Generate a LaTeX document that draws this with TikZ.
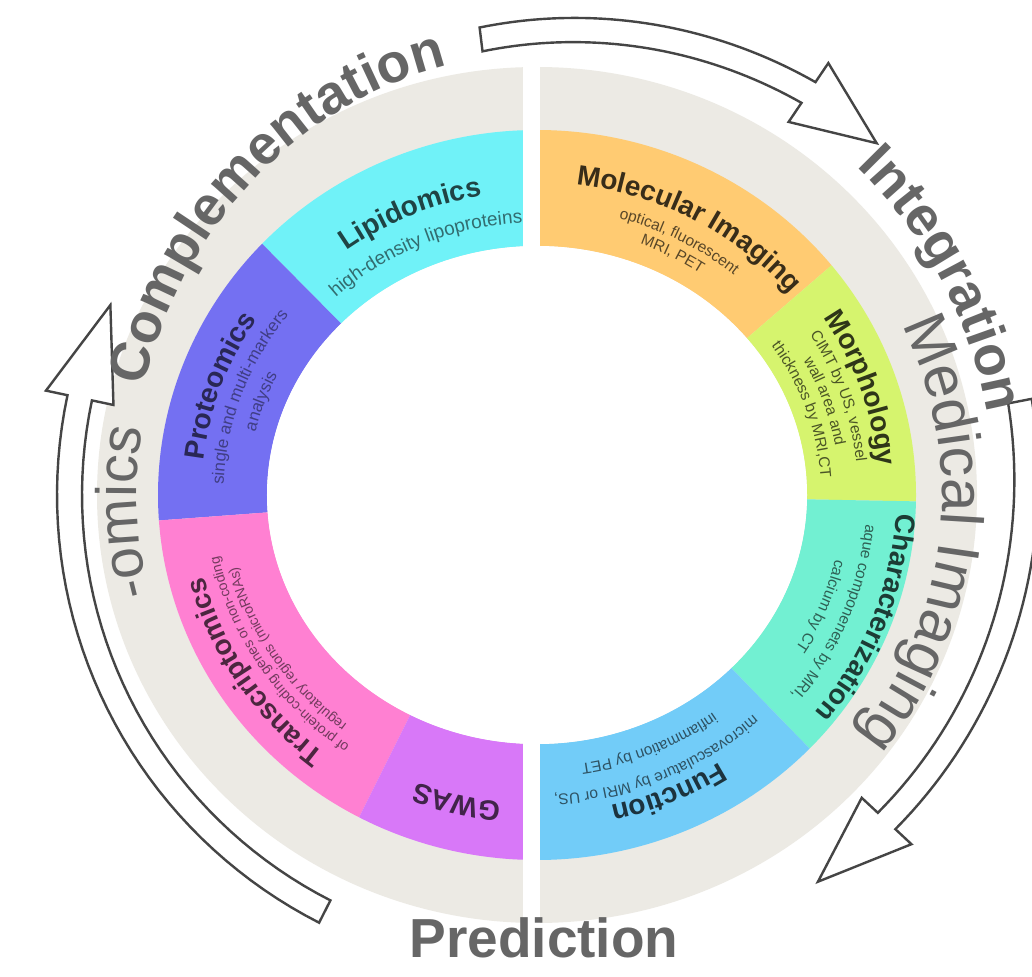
\documentclass[tikz,border=0pt]{standalone}
\usepackage{fontspec}
\setmainfont{Liberation Sans}
\usetikzlibrary{decorations.text}
\definecolor{gband}{HTML}{ECEAE4}
\definecolor{kLip}{HTML}{70F2F8}
\definecolor{kProt}{HTML}{7470F2}
\definecolor{kTrans}{HTML}{FF80D2}
\definecolor{kGwas}{HTML}{D878F8}
\definecolor{kMol}{HTML}{FFCB72}
\definecolor{kMorph}{HTML}{D6F46E}
\definecolor{kChar}{HTML}{72F0D2}
\definecolor{kFunc}{HTML}{72CCF8}
\definecolor{lbl}{HTML}{666666}
\definecolor{arrowc}{HTML}{454545}
\colorlet{tLip}{kLip!28!black}\colorlet{sLip}{kLip!45!black}
\colorlet{tProt}{kProt!35!black}\colorlet{sProt}{kProt!55!black}
\colorlet{tTrans}{kTrans!30!black}\colorlet{sTrans}{kTrans!45!black}
\colorlet{tGwas}{kGwas!30!black}
\colorlet{tMol}{kMol!22!black}\colorlet{sMol}{kMol!35!black}
\colorlet{tMorph}{kMorph!22!black}\colorlet{sMorph}{kMorph!35!black}
\colorlet{tChar}{kChar!25!black}\colorlet{sChar}{kChar!40!black}
\colorlet{tFunc}{kFunc!25!black}\colorlet{sFunc}{kFunc!40!black}
\newcommand{\fBig}{\fontsize{55}{57}\selectfont\bfseries}
\newcommand{\fBigR}{\fontsize{57}{60}\selectfont}
\newcommand{\fBigM}{\fontsize{60}{62}\selectfont}
\newcommand{\fTit}{\fontsize{28}{30}\selectfont\bfseries}
\newcommand{\fSubA}{\fontsize{19}{21}\selectfont}
\newcommand{\fSubB}{\fontsize{17}{19}\selectfont}
\newcommand{\fSubC}{\fontsize{15.5}{17}\selectfont}
\newcommand{\fSubD}{\fontsize{14}{16}\selectfont}
% ring segment: colour, start angle, end angle
\newcommand{\ringseg}[3]{\fill[#1] (#2:379pt and 365pt) arc[start angle=#2,end angle=#3,x radius=379pt,y radius=365pt] -- (#3:270pt and 249pt) arc[start angle=#3,end angle=#2,x radius=270pt,y radius=249pt] -- cycle;}
% text on ring: t, start, end, colour, font, text, align
\newcommand{\arctext}[7]{%
  \pgfmathsetmacro\rxx{270+109*#1}\pgfmathsetmacro\ryy{249+116*#1}%
  \path[decorate,decoration={text along path,text align=#7,text color=#4,text={|#5|#6}}]
    (#2:\rxx pt and \ryy pt) arc[start angle=#2,end angle=#3,x radius=\rxx pt,y radius=\ryy pt];}
% free text on ellipse: rx, ry, start, end, colour, font, text
\newcommand{\elltext}[7]{%
  \path[decorate,decoration={text along path,text align=center,text color=#5,text={|#6|#7}}]
    (#3:#1pt and #2pt) arc[start angle=#3,end angle=#4,x radius=#1pt,y radius=#2pt];}
% spiral block arrow: start angle, band end angle, tip angle,
% inner r at start, outer r at start, inner r at end, outer r at end, wing overhang, tip r
\newcommand{\spiralarrow}[9]{%
  \pgfmathsetmacro\wIn{#6-#8}\pgfmathsetmacro\wOut{#7+#8}%
  \filldraw[arrowline]
    plot[domain=#1:#2,samples=40,variable=\t] (\t:{#5+(#7-#5)*(\t-#1)/(#2-#1)})
    -- (#2:\wOut) -- (#3:#9) -- (#2:\wIn)
    -- plot[domain=#2:#1,samples=40,variable=\t] (\t:{#4+(#6-#4)*(\t-#1)/(#2-#1)})
    -- cycle;}
\tikzset{arrowline/.style={draw=arrowc,line width=2.4pt,fill=white,line join=miter}}
\begin{document}
\begin{tikzpicture}[x=1pt,y=1pt]
\useasboundingbox (-537,-481) rectangle (495,495);
\clip (-537,-481) rectangle (495,495);
\fill[white] (-537,-481) rectangle (495,495);
% grey band
\fill[gband] (0,0) ellipse [x radius=440pt, y radius=428pt];
% coloured ring
\ringseg{kLip}{136.5}{90}
\ringseg{kProt}{184}{136.5}
\ringseg{kTrans}{242}{184}
\ringseg{kGwas}{270}{242}
\ringseg{kMol}{90}{39}
\ringseg{kMorph}{39}{-1}
\ringseg{kChar}{-1}{-44}
\ringseg{kFunc}{-44}{-90}
\fill[white] (0,0) ellipse [x radius=270pt, y radius=249pt];
\fill[white] (-14,-445) rectangle (3,445);
% segment texts
\arctext{0.47}{136.5}{90}{tLip}{\fTit}{Lipidomics}{center}
\arctext{0.20}{136.5}{90}{sLip}{\fSubA}{high-density lipoproteins}{center}
\arctext{0.60}{184}{136.5}{tProt}{\fTit}{Proteomics}{center}
\arctext{0.40}{184}{136.5}{sProt}{\fSubB}{single and multi-markers}{center}
\arctext{0.18}{184}{136.5}{sProt}{\fSubB}{analysis}{center}
\arctext{0.68}{242}{184}{tTrans}{\fTit}{Transcriptomics}{center}
\arctext{0.50}{242}{184}{sTrans}{\fSubD}{of protein-coding genes or non-coding}{center}
\arctext{0.36}{242}{184}{sTrans}{\fSubD}{regulatory regions (microRNAs)}{center}
\arctext{0.52}{270}{242}{tGwas}{\fTit}{GWAS}{center}
\arctext{0.55}{88}{35}{tMol}{\fTit}{Molecular Imaging}{center}
\arctext{0.33}{88}{36}{sMol}{\fSubC}{optical, fluorescent}{center}
\arctext{0.17}{88}{36}{sMol}{\fSubC}{MRI, PET}{center}
\arctext{0.66}{39}{-1}{tMorph}{\fTit}{Morphology}{center}
\arctext{0.47}{39}{-1}{sMorph}{\fSubC}{CIMT by US, vessel}{center}
\arctext{0.30}{39}{-1}{sMorph}{\fSubC}{wall area and}{center}
\arctext{0.13}{39}{-1}{sMorph}{\fSubC}{thickness by MRI,CT}{center}
\arctext{0.82}{-3}{-60}{tChar}{\fTit}{Characterization}{left}
\arctext{0.55}{-1}{-44}{sChar}{\fSubC}{aque componenets by MRI,}{center}
\arctext{0.33}{-1}{-44}{sChar}{\fSubC}{calcium by CT}{center}
\arctext{0.60}{-44}{-90}{tFunc}{\fTit}{Function}{center}
\arctext{0.44}{-44}{-90}{sFunc}{\fSubC}{microvasculature by MRI or US,}{center}
\arctext{0.20}{-44}{-90}{sFunc}{\fSubC}{inflammation by PET}{center}
% arrows
\spiralarrow{97}{56}{46}{447}{471}{473}{498}{23}{489}
\spiralarrow{11}{-43}{-54}{480}{504}{466}{490}{22}{478}
\spiralarrow{243}{168}{156}{455}{480}{455}{480}{22}{467}
% outer labels
\elltext{405}{440}{173}{95}{lbl}{\fBig}{Complementation}
\elltext{458}{458}{52}{4}{lbl}{\fBig}{Integration}
\elltext{405}{392}{30}{-42}{lbl}{\fBigM}{Medical Imaging}
\elltext{400}{386}{205}{160}{lbl}{\fBigR}{-omics}
\node[text=lbl,font=\fBig,anchor=base] (pred) at (7,-462) {Prediction};
\end{tikzpicture}
\end{document}
